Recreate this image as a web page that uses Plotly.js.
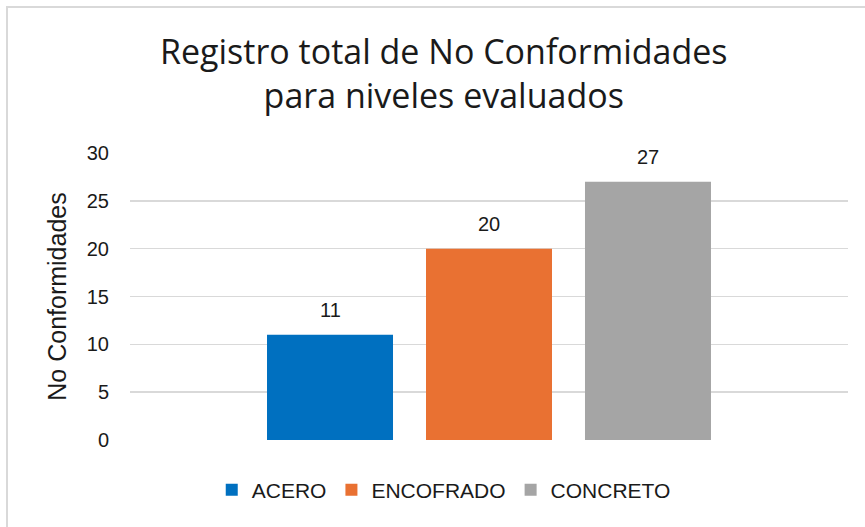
<!DOCTYPE html>
<html>
<head>
<meta charset="utf-8">
<script src="https://cdn.plot.ly/plotly-3.0.1.min.js"></script>
<style>
  html, body { margin: 0; padding: 0; background: #ffffff; }
  #wrap { position: relative; width: 865px; height: 527px; overflow: hidden; }
  #chart { position: absolute; left: 0; top: 0; width: 865px; height: 527px; }
  #frame { position: absolute; left: 6px; top: 6px; width: 900px; height: 560px;
           border-top: 2px solid #d9d9d9; border-left: 2px solid #d9d9d9; pointer-events: none; }
</style>
</head>
<body>
<div id="wrap">
  <div id="chart"></div>
  <div id="frame"></div>
</div>
<script>
// ---- data ----
const seriesNames = ['ACERO', 'ENCOFRADO', 'CONCRETO'];
const seriesValues = [11, 20, 27];
const seriesColors = ['#0070C0', '#E97132', '#A5A5A5'];
const yTickValues = [0, 5, 10, 15, 20, 25, 30];
const chartTitle = 'Registro total de No Conformidades<br>para niveles evaluados';
const yTitle = 'No Conformidades';

const textColor = '#1a1a1a';

const traces = seriesNames.map((name, i) => ({
  type: 'bar',
  name: name,
  x: [name],
  y: [seriesValues[i]],
  marker: { color: seriesColors[i] },
  hoverinfo: 'skip'
}));

const annotations = seriesNames.map((name, i) => ({
  x: name,
  y: seriesValues[i],
  xref: 'x',
  yref: 'y',
  text: String(seriesValues[i]),
  showarrow: false,
  yanchor: 'bottom',
  yshift: 12,
  font: { family: 'Liberation Sans, Arial, sans-serif', size: 20, color: textColor }
}));

const layout = {
  width: 865,
  height: 527,
  margin: { l: 130, r: 17, t: 153, b: 87 },
  paper_bgcolor: '#ffffff',
  plot_bgcolor: '#ffffff',
  barmode: 'overlay',
  bargap: 0.2075,
  showlegend: true,
  title: {
    text: chartTitle,
    font: { family: 'Open Sans, sans-serif', size: 34, color: textColor },
    xref: 'container',
    x: 0.513,
    xanchor: 'center',
    yref: 'container',
    y: 1 - 64 / 527,
    yanchor: 'top'
  },
  xaxis: {
    type: 'category',
    categoryorder: 'array',
    categoryarray: seriesNames,
    range: [-1.258, 3.258],
    showticklabels: false,
    showgrid: false,
    zeroline: false,
    showline: false,
    ticks: ''
  },
  yaxis: {
    range: [0, 30],
    tickvals: yTickValues,
    ticktext: yTickValues.map(String),
    tickfont: { family: 'Liberation Sans, Arial, sans-serif', size: 20, color: textColor },
    ticklabelstandoff: 20,
    showgrid: true,
    gridcolor: '#d9d9d9',
    gridwidth: 1.5,
    zeroline: false,
    showline: false,
    ticks: '',
    title: {
      text: yTitle,
      font: { family: 'Liberation Sans, Arial, sans-serif', size: 25, color: textColor },
      standoff: 13
    }
  },
  legend: {
    orientation: 'h',
    xref: 'container',
    yref: 'container',
    x: 0.513,
    xanchor: 'center',
    y: 1 - 490 / 527,
    yanchor: 'middle',
    font: { family: 'Liberation Sans, Arial, sans-serif', size: 21, color: textColor },
    itemwidth: 30,
    traceorder: 'normal'
  },
  annotations: annotations
};

Plotly.newPlot('chart', traces, layout, { displayModeBar: false, staticPlot: true });
</script>
</body>
</html>
